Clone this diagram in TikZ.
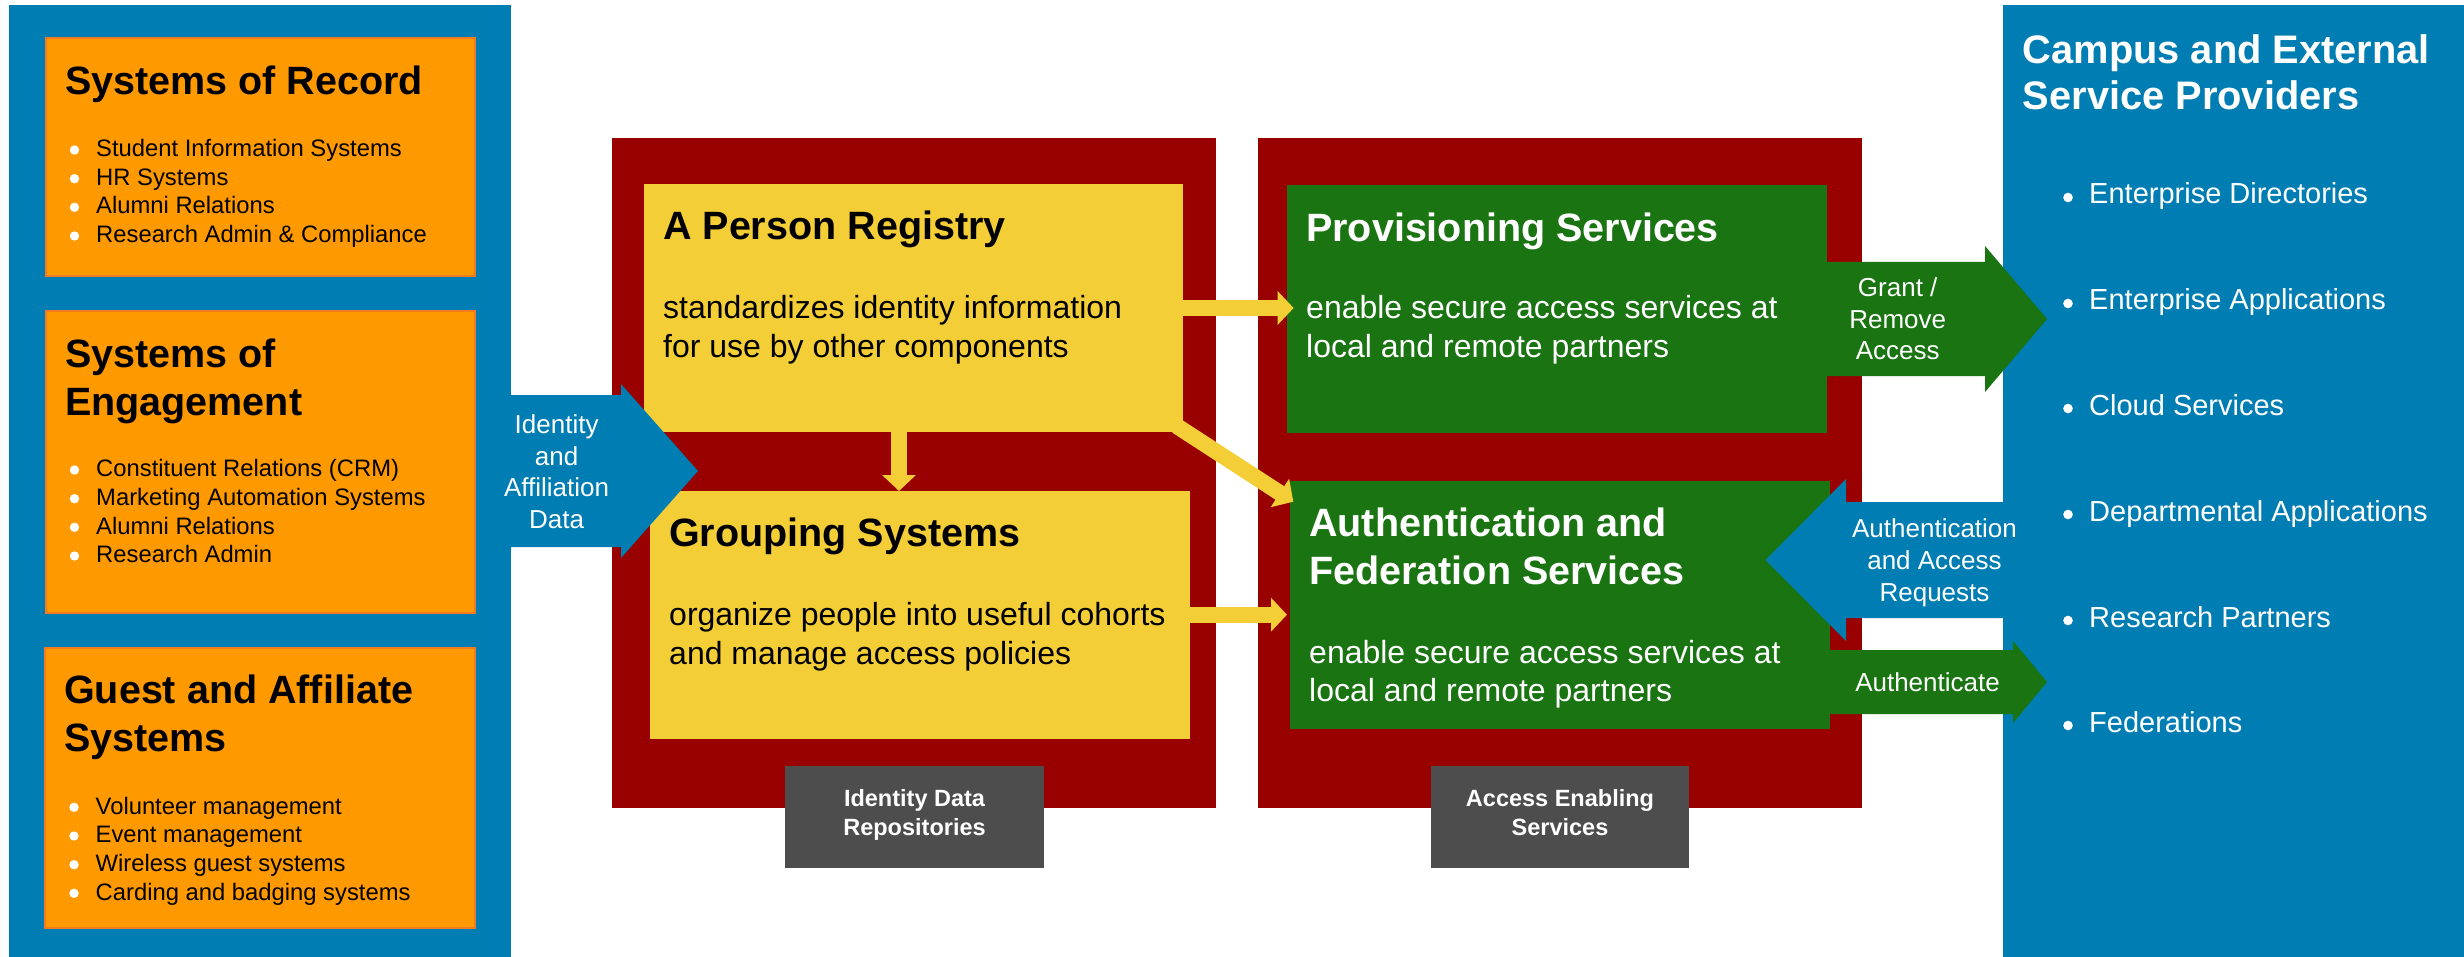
\documentclass[tikz,border=0pt]{standalone}
\usepackage{fontspec}
\setmainfont{Liberation Sans}
\usetikzlibrary{arrows.meta,calc}
\definecolor{pblue}{HTML}{007DB2}
\definecolor{dred}{HTML}{990000}
\definecolor{orng}{HTML}{FF9900}
\definecolor{orngb}{HTML}{F47A20}
\definecolor{yel}{HTML}{F4CE36}
\definecolor{grn}{HTML}{1A7412}
\definecolor{gry}{HTML}{4D4D4D}
\tikzset{
  box/.style={inner sep=0pt, outer sep=0pt, anchor=north west},
  ttlB/.style={inner sep=0pt, anchor=base west, text=black, font=\fontsize{39.5}{47}\selectfont\bfseries},
  ttlW/.style={inner sep=0pt, anchor=base west, text=white, font=\fontsize{39.5}{47}\selectfont\bfseries},
  dscB/.style={inner sep=0pt, anchor=base west, text=black, font=\fontsize{32}{38}\selectfont},
  dscW/.style={inner sep=0pt, anchor=base west, text=white, font=\fontsize{32}{38}\selectfont},
  lbul/.style={inner sep=0pt, anchor=base west, text=black, font=\fontsize{23.8}{28}\selectfont},
  rbul/.style={inner sep=0pt, anchor=base west, text=white, font=\fontsize{29}{34}\selectfont},
  atxt/.style={inner sep=0pt, anchor=base, text=white, font=\fontsize{26}{31}\selectfont},
  gtxt/.style={inner sep=0pt, anchor=base, text=white, font=\fontsize{23.5}{28}\selectfont\bfseries},
  yarr/.style={draw=yel, line width=16pt, -{Triangle[length=16pt,width=33pt]}},
}
\newcommand\lbitem[4]{\fill[white] ({#1-21.5},{#2-6.7}) circle[radius=4.7pt]; \node[lbul] (#3) at (#1,#2) {#4};}
\newcommand\rbitem[4]{\fill[white] ({#1-21},{#2-6.5}) circle[radius=4.8pt]; \node[rbul] (#3) at (#1,#2) {#4};}
\begin{document}
\begin{tikzpicture}[x=1pt,y=-1pt]
\useasboundingbox[fill=white] (0,0) rectangle (2464,957);

% panels
\node[box, fill=pblue, minimum width=502pt, minimum height=952pt] (lp) at (9,5) {};
\node[box, fill=pblue, minimum width=461pt, minimum height=952pt] (rp) at (2003,5) {};

% left orange boxes
\node[box, fill=orng, draw=orngb, line width=2pt, minimum width=429pt, minimum height=238pt] (sor) at (45.5,38) {};
\node[box, fill=orng, draw=orngb, line width=2pt, minimum width=429pt, minimum height=302pt] (soe) at (45.5,311) {};
\node[box, fill=orng, draw=orngb, line width=2pt, minimum width=430pt, minimum height=280pt] (gas) at (45,648) {};

% red containers
\node[box, fill=dred, minimum width=604pt, minimum height=670pt] (red1) at (612,138) {};
\node[box, fill=dred, minimum width=604pt, minimum height=670pt] (red2) at (1258,138) {};

% gray labels
\node[box, fill=gry, minimum width=259pt, minimum height=102pt] (lab1) at (785,766) {};
\node[box, fill=gry, minimum width=258pt, minimum height=102pt] (lab2) at (1431,766) {};

% inner boxes
\node[box, fill=yel, minimum width=539pt, minimum height=248pt] (pr) at (644,184) {};
\node[box, fill=yel, minimum width=540pt, minimum height=248pt] (gs) at (650,491) {};
\node[box, fill=grn, minimum width=540pt, minimum height=248pt] (prov) at (1287,185) {};
\node[box, fill=grn, minimum width=540pt, minimum height=248pt] (auth) at (1290,481) {};

% yellow connectors
\draw[yarr] (pr.east |- 0,308) -- ($(prov.west |- 0,308)+(6.6,0)$);
\draw[yarr] (pr.south -| 899,0) -- (gs.north -| 899,0);
\draw[yarr] ($(pr.south east)+(-6.3,-6)$) -- ($(auth.north west)+(3.3,20.7)$);
\draw[yarr] (gs.east |- 0,614.7) -- ($(auth.west |- 0,614.7)+(-3,0)$);

% block arrows
\fill[pblue] (511,395) -- (621,395) -- (621,384) -- (698,471) -- (621,558) -- (621,547) -- (511,547) -- cycle;
\fill[grn] (1827,262) -- (1985,262) -- (1985,246) -- (2047,319) -- (1985,392) -- (1985,376) -- (1827,376) -- cycle;
\fill[pblue] (2003,502) -- (1846,502) -- (1846,479) -- (1765.5,560) -- (1846,641) -- (1846,618) -- (2003,618) -- cycle;
\fill[grn] (1830,650) -- (2013,650) -- (2013,641) -- (2047,682) -- (2013,723) -- (2013,714) -- (1830,714) -- cycle;

% left texts
\node[ttlB] (t1) at (65,94.5) {Systems of Record};
\lbitem{96}{156.7}{b11}{Student Information Systems}
\lbitem{96}{185.4}{b12}{HR Systems}
\lbitem{96}{214}{b13}{Alumni Relations}
\lbitem{96}{242.7}{b14}{Research Admin \& Compliance}

\node[ttlB] (t2a) at (65,367) {Systems of};
\node[ttlB] (t2b) at (65,415) {Engagement};
\lbitem{96}{476.7}{b21}{Constituent Relations (CRM)}
\lbitem{96}{505.4}{b22}{Marketing Automation Systems}
\lbitem{96}{534}{b23}{Alumni Relations}
\lbitem{96}{562.7}{b24}{Research Admin}

\node[ttlB] (t3a) at (64,703.3) {Guest and Affiliate};
\node[ttlB] (t3b) at (64,751.7) {Systems};
\lbitem{95.5}{814}{b31}{Volunteer management}
\lbitem{95.5}{842.7}{b32}{Event management}
\lbitem{95.5}{871.4}{b33}{Wireless guest systems}
\lbitem{95.5}{900}{b34}{Carding and badging systems}

% middle texts
\node[ttlB] (prt) at (663,240) {A Person Registry};
\node[dscB] (prd1) at (663,319) {standardizes identity information};
\node[dscB] (prd2) at (663,357) {for use by other components};
\node[ttlB] (gst) at (669,546.7) {Grouping Systems};
\node[dscB] (gsd1) at (669,625) {organize people into useful cohorts};
\node[dscB] (gsd2) at (669,664) {and manage access policies};
\node[ttlW] (pvt) at (1306,241.7) {Provisioning Services};
\node[dscW] (pvd1) at (1306,319) {enable secure access services at};
\node[dscW] (pvd2) at (1306,357) {local and remote partners};
\node[ttlW] (aut1) at (1309,536.7) {Authentication and};
\node[ttlW] (aut2) at (1309,584) {Federation Services};
\node[dscW] (aud1) at (1309,663) {enable secure access services at};
\node[dscW] (aud2) at (1309,701.7) {local and remote partners};

\node[gtxt] (g1a) at (914.5,806.7) {Identity Data};
\node[gtxt] (g1b) at (914.5,835) {Repositories};
\node[gtxt] (g2a) at (1560,806.7) {Access Enabling};
\node[gtxt] (g2b) at (1560,835) {Services};

% arrow texts
\node[atxt] (ia1) at (556.6,433.3) {Identity};
\node[atxt] (ia2) at (556.6,465) {and};
\node[atxt] (ia3) at (556.6,496.7) {Affiliation};
\node[atxt] (ia4) at (556.6,528.3) {Data};
\node[atxt] (gr1) at (1897.7,296.7) {Grant /};
\node[atxt] (gr2) at (1897.7,328.3) {Remove};
\node[atxt] (gr3) at (1897.7,359.3) {Access};
\node[atxt] (ar1) at (1934.5,537.3) {Authentication};
\node[atxt] (ar2) at (1934.5,569.3) {and Access};
\node[atxt] (ar3) at (1934.5,601.3) {Requests};
\node[atxt] (au1) at (1927.5,691.7) {Authenticate};

% right texts
\node[ttlW, font=\fontsize{39.8}{47}\selectfont\bfseries] (rpt1) at (2022.7,63.3) {Campus and External};
\node[ttlW, font=\fontsize{39.8}{47}\selectfont\bfseries] (rpt2) at (2022.7,110) {Service Providers};
\rbitem{2089}{204}{r1}{Enterprise Directories}
\rbitem{2089}{310}{r2}{Enterprise Applications}
\rbitem{2089}{415}{r3}{Cloud Services}
\rbitem{2089}{521}{r4}{Departmental Applications}
\rbitem{2089}{627}{r5}{Research Partners}
\rbitem{2089}{732}{r6}{Federations}
\end{tikzpicture}
\end{document}
